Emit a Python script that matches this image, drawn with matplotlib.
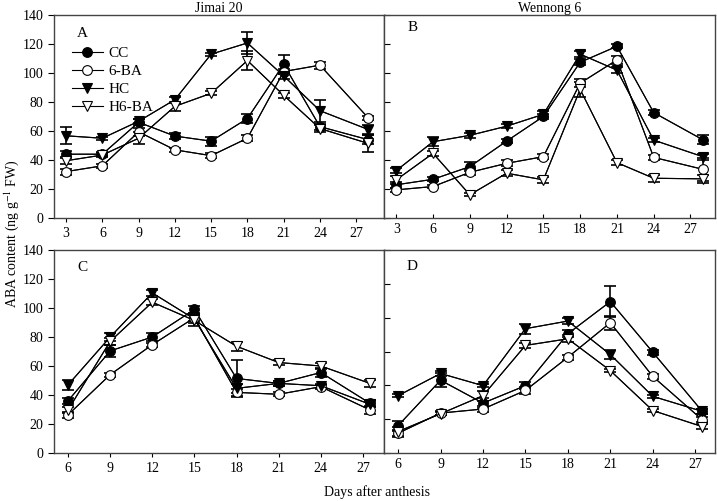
import matplotlib
matplotlib.use('Agg')
import matplotlib.pyplot as plt

plt.rcParams['font.family'] = ['Liberation Serif', 'DejaVu Serif']
plt.rcParams['mathtext.fontset'] = 'stix'

# days after anthesis
days_top = [3, 6, 9, 12, 15, 18, 21, 24, 28]
days_bot = [6, 9, 12, 15, 18, 21, 24, 27.5]
ticks_top = [3, 6, 9, 12, 15, 18, 21, 24, 27]
ticks_bot = [6, 9, 12, 15, 18, 21, 24, 27]

treatments = ['CC', '6-BA', 'HC', 'H6-BA']

# panel A - Jimai 20
a_cc = [44, 44, 66, 56.5, 53, 68.6, 106, 63, 54]
a_ba = [32, 36, 59.4, 47, 43, 55, 101, 105.4, 69]
a_hc = [56.7, 55, 66.7, 81.6, 113, 120.7, 98, 74, 61]
a_hba = [39.5, 43.4, 55, 77, 86, 108.6, 84.6, 61.7, 51.4]
a_cc_err = [2, 1.5, 2, 2, 3, 3, 6.5, 2, 3]
a_ba_err = [2, 1.5, 3, 1.5, 1.5, 2, 2, 2.5, 1.5]
a_hc_err = [6, 1, 1.5, 2, 1, 7.5, 2, 7.5, 3]
a_hba_err = [2, 1.5, 4, 3, 1.5, 6.5, 1.5, 2.5, 6]

# panel B - Wennong 6
b_cc = [22.9, 26.7, 35.4, 53, 70, 107.4, 118.4, 72.7, 54]
b_ba = [19.4, 21.7, 31.5, 37.7, 42.3, 93, 109, 41.8, 33.6]
b_hc = [32.7, 52.6, 57, 63.3, 71.5, 113, 102, 53.7, 42.3]
b_hba = [26.3, 44.6, 16, 30.9, 26.3, 88.7, 38.2, 27.4, 27]
b_cc_err = [2, 1.5, 3, 1.5, 2, 2, 1.5, 1.5, 3]
b_ba_err = [1.5, 1, 2, 2, 1.5, 3, 3, 1.5, 8]
b_hc_err = [2, 3, 1.5, 1.5, 2, 2, 2, 1.5, 2]
b_hba_err = [3, 1.5, 1, 2, 2, 5, 1.5, 2.5, 3]

# panel C
c_cc = [36, 70.4, 80, 99, 51.4, 48, 55.5, 34.3]
c_ba = [26.3, 54, 74.7, 93.3, 41.8, 40.5, 45.7, 29.7]
c_hc = [47, 80, 110.4, 92.4, 44.6, 48, 46.4, 33.6]
c_hba = [29.7, 77, 104, 91.4, 73.6, 62.4, 60, 48]
c_cc_err = [2, 4, 2.5, 2.5, 13, 2, 3, 2.5]
c_ba_err = [2, 1.5, 1.5, 2.5, 2.5, 1.5, 1.5, 2.5]
c_hc_err = [3.5, 3, 2, 2.5, 3, 2, 1.5, 2]
c_hba_err = [2, 2.5, 2, 4, 3, 1.5, 2, 2.5]

# panel D (own unlabeled axis, 0-120)
d_cc = [16.2, 43, 29.5, 39.8, 70.5, 89.5, 59.6, 24.6]
d_ba = [11.7, 23.6, 26, 37, 56.6, 77, 45.3, 19.6]
d_hc = [33.9, 47, 39.8, 73.5, 78, 58.2, 33.5, 24.6]
d_hba = [12.7, 23.2, 33.9, 63.6, 67.5, 48.7, 25.1, 15.6]
d_cc_err = [3, 4, 3, 2, 2, 9, 1.5, 1.5]
d_ba_err = [2, 1, 1.5, 2, 1.5, 4, 1.5, 1.5]
d_hc_err = [1, 1.5, 1, 3, 2, 2.5, 1, 1.5]
d_hba_err = [2.5, 1, 3, 1.5, 2, 1, 1, 1.5]

styles = [('o', 'black'), ('o', 'white'), ('v', 'black'), ('v', 'white')]

fig = plt.figure(figsize=(7.17, 5.01), dpi=100)
W, H = 717.0, 501.0

def make_ax(l, t, r, b):
    return fig.add_axes([l / W, 1 - b / H, (r - l) / W, (b - t) / H])

axA = make_ax(54, 15, 384, 218)
axB = make_ax(384, 15, 715, 218)
axC = make_ax(54, 250, 384, 453)
axD = make_ax(384, 250, 715, 453)

panels = [
    (axA, days_top, [a_cc, a_ba, a_hc, a_hba], [a_cc_err, a_ba_err, a_hc_err, a_hba_err]),
    (axB, days_top, [b_cc, b_ba, b_hc, b_hba], [b_cc_err, b_ba_err, b_hc_err, b_hba_err]),
    (axC, days_bot, [c_cc, c_ba, c_hc, c_hba], [c_cc_err, c_ba_err, c_hc_err, c_hba_err]),
    (axD, days_bot, [d_cc, d_ba, d_hc, d_hba], [d_cc_err, d_ba_err, d_hc_err, d_hba_err]),
]

handles = []
for ax, x, series, errs in panels:
    for (m, fc), y, e, lab in zip(styles, series, errs, treatments):
        ax.errorbar(x, y, yerr=e, color='black', lw=0.8, elinewidth=1.2,
                    capsize=4, capthick=1.2, zorder=2)
        h, = ax.plot(x, y, marker=m, mfc=fc, mec='black', mew=0.8, ms=7,
                     color='black', lw=0.8, label=lab, zorder=3)
        if ax is axA:
            handles.append(h)
    for s in ax.spines.values():
        s.set_linewidth(1.0)
        s.set_color('#444444')

axA.set_xlim(2, 29.3)
axB.set_xlim(2, 29)
axC.set_xlim(5, 28.5)
axD.set_xlim(5, 28.4)
for ax in (axA, axB):
    ax.set_xticks(ticks_top)
for ax in (axC, axD):
    ax.set_xticks(ticks_bot)
for ax in (axA, axB, axC):
    ax.set_ylim(0, 140)
axD.set_ylim(0, 120)

for ax in (axA, axC):
    ax.set_yticks(range(0, 141, 20))
    ax.tick_params(axis='y', direction='out', length=4, labelsize=10)
    ax.tick_params(axis='x', direction='out', length=3, labelsize=10)
for ax in (axB, axD):
    ax.set_yticks(range(0, 141 if ax is axB else 121, 20))
    ax.tick_params(axis='y', direction='in', length=4, labelleft=False)
    ax.tick_params(axis='x', direction='in', length=3, labelsize=10)

axA.set_title('Jimai 20', fontsize=10, pad=1)
axB.set_title('Wennong 6', fontsize=10, pad=1)

for ax, letter, ty in zip((axA, axB, axC, axD), 'ABCD', (0.91, 0.94, 0.915, 0.92)):
    ax.text(0.085, ty, letter, transform=ax.transAxes, fontsize=11,
            ha='center', va='center')

axA.legend(handles=handles, loc='upper left', bbox_to_anchor=(0.055, 0.845),
           frameon=False, fontsize=11, handlelength=2.0, handletextpad=0.4,
           labelspacing=0.28, borderpad=0, borderaxespad=0)

fig.text(12 / W, 1 - 234 / H, 'ABA content (ng g$^{-1}$ FW)', rotation=90,
         ha='center', va='center', fontsize=10)
fig.text(377 / W, 1 - 492 / H, 'Days after anthesis', ha='center',
         va='center', fontsize=10)

fig.savefig('out.png', dpi=100)
